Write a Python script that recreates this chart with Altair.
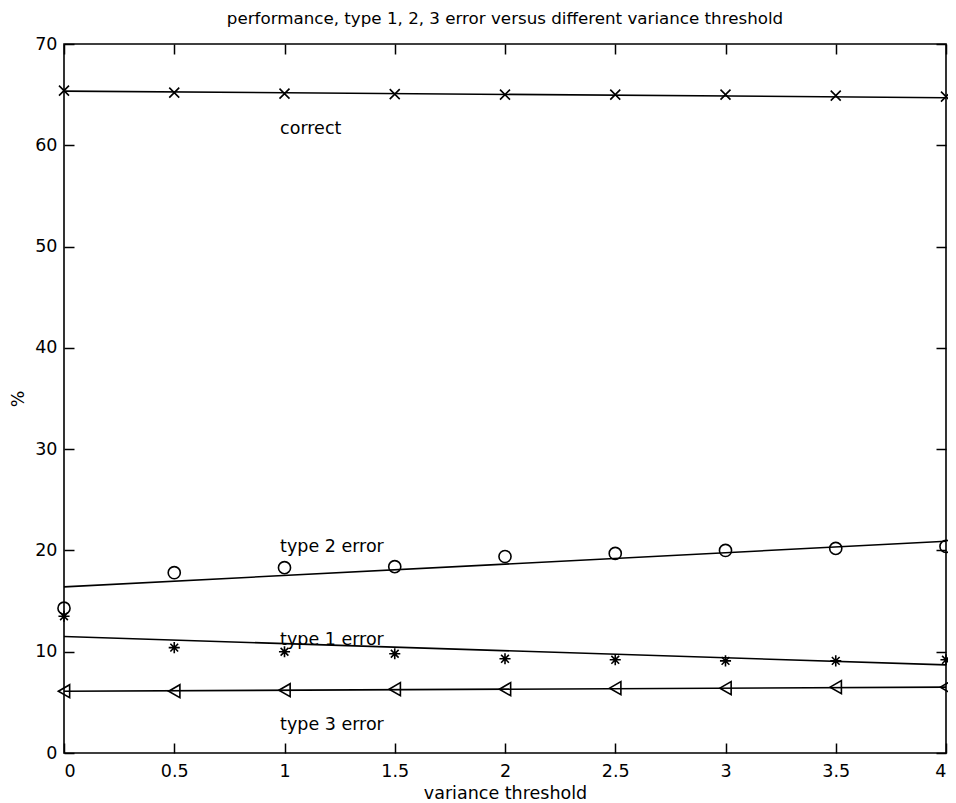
import altair as alt
import pandas as pd

# ---- data ----
thresholds = [0, 0.5, 1, 1.5, 2, 2.5, 3, 3.5, 4]
correct = [65.4, 65.2, 65.1, 65.05, 65.0, 65.0, 65.0, 64.9, 64.8]
type1 = [13.5, 10.4, 10.0, 9.8, 9.3, 9.2, 9.1, 9.1, 9.2]
type2 = [14.3, 17.8, 18.3, 18.4, 19.4, 19.7, 20.0, 20.2, 20.4]
type3 = [6.1, 6.1, 6.2, 6.3, 6.3, 6.4, 6.4, 6.5, 6.5]

fit_x = [0, 4]
correct_fit = [65.35, 64.7]
type1_fit = [11.5, 8.7]
type2_fit = [16.4, 20.9]
type3_fit = [6.1, 6.5]

label_text = ["correct", "type 2 error", "type 1 error", "type 3 error"]
label_x = [0.98, 0.98, 0.98, 0.98]
label_y = [61.6, 20.3, 11.2, 2.8]

x_ticks = [0, 0.5, 1, 1.5, 2, 2.5, 3, 3.5, 4]
y_ticks = [0, 10, 20, 30, 40, 50, 60, 70]

series_names = ["correct", "type 1 error", "type 2 error", "type 3 error"]
series_shapes = [
    "M-1,-1L1,1M-1,1L1,-1",
    "M0,-1L0,1M-1,0L1,0M-0.7,-0.7L0.7,0.7M-0.7,0.7L0.7,-0.7",
    "circle",
    "triangle-left",
]
series_sizes = [100, 170, 135, 125]

# ---- tables ----
pts = pd.DataFrame(
    [(x, v, s) for s, vals in zip(series_names, [correct, type1, type2, type3])
     for x, v in zip(thresholds, vals)],
    columns=["x", "y", "series"],
)
fits = pd.DataFrame(
    [(x, v, s) for s, vals in zip(series_names, [correct_fit, type1_fit, type2_fit, type3_fit])
     for x, v in zip(fit_x, vals)],
    columns=["x", "y", "series"],
)
labels = pd.DataFrame({"x": label_x, "y": label_y, "text": label_text})

FONT = "DejaVu Sans"
FS = 17.5

x_scale = alt.Scale(domain=[0, 4], nice=False, zero=False)
y_scale = alt.Scale(domain=[0, 70], nice=False, zero=False)

common = dict(domain=False, grid=False, tickColor="black", tickSize=10,
              tickWidth=1.5, offset=-10, labelColor="black", labelFont=FONT,
              labelFontSize=FS, titleFont=FONT, titleFontSize=FS,
              titleFontWeight="normal", titleColor="black")

x_bottom = alt.Axis(orient="bottom", values=x_ticks, format="~g",
                    title="variance threshold", labelPadding=9, titlePadding=5,
                    **common)
y_left = alt.Axis(orient="left", values=y_ticks, format="d", title="%",
                  labelPadding=7, titlePadding=7, **common)
x_top = alt.Axis(orient="top", values=x_ticks, labels=False, title=None, **common)
y_right = alt.Axis(orient="right", values=y_ticks, labels=False, title=None, **common)

lines = alt.Chart(fits).mark_line(color="black", strokeWidth=1.6).encode(
    x=alt.X("x:Q", scale=x_scale, axis=x_bottom),
    y=alt.Y("y:Q", scale=y_scale, axis=y_left),
    detail="series:N",
)

points = alt.Chart(pts).mark_point(color="black", filled=False, strokeWidth=1.6,
                                   opacity=1).encode(
    x=alt.X("x:Q", scale=x_scale, axis=x_top),
    y=alt.Y("y:Q", scale=y_scale, axis=y_right),
    shape=alt.Shape("series:N", scale=alt.Scale(domain=series_names, range=series_shapes),
                    legend=None),
    size=alt.Size("series:N", scale=alt.Scale(domain=series_names, range=series_sizes),
                  legend=None),
)

texts = alt.Chart(labels).mark_text(align="left", baseline="middle", font=FONT,
                                     fontSize=FS, color="black").encode(
    x=alt.X("x:Q", scale=x_scale, axis=None),
    y=alt.Y("y:Q", scale=y_scale, axis=None),
    text="text:N",
)

chart = alt.layer(lines, points, texts).resolve_axis(
    x="independent", y="independent"
).properties(
    width=882,
    height=709,
    background="white",
    autosize=alt.AutoSizeParams(type="none"),
    padding={"left": 56, "top": 36, "right": 2, "bottom": 50},
    title=alt.TitleParams(
        "performance, type 1, 2, 3 error versus different variance threshold",
        font=FONT, fontSize=16.7, fontWeight="normal", color="black",
        frame="group", anchor="middle", offset=7,
    ),
).configure_view(stroke="black", strokeWidth=1.6)

chart.save("out.html", embed_options={"renderer": "svg", "actions": False})
